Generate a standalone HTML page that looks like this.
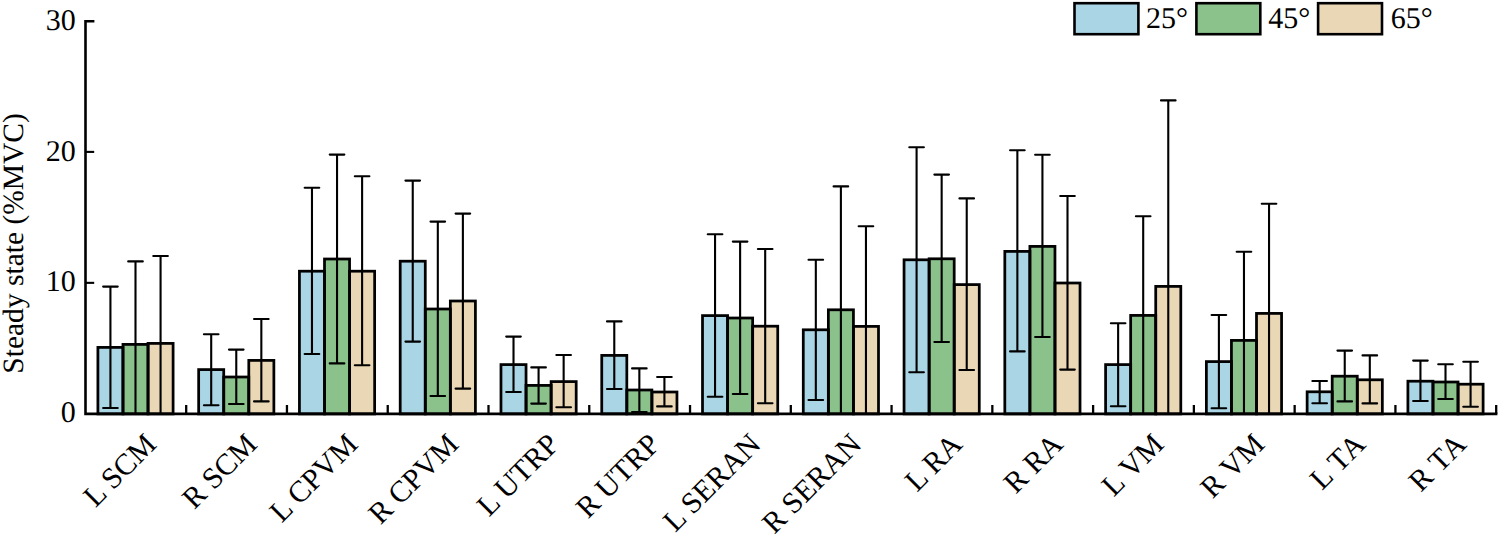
<!DOCTYPE html><html><head><meta charset="utf-8"><style>html,body{margin:0;padding:0;background:#fff;width:1499px;height:535px;overflow:hidden}svg{display:block}text{font-family:"Liberation Serif",serif;text-rendering:geometricPrecision;font-kerning:none;font-size:30px;fill:#000}</style></head><body>
<svg width="1499" height="535" viewBox="0 0 1499 535">
<rect width="1499" height="535" fill="#fff"/>
<g><rect x="97.9" y="347.4" width="25.07" height="66.5" fill="#aad5e4"/><rect x="122.97" y="344.4" width="25.07" height="69.5" fill="#8bc18b"/><rect x="148.03" y="343.4" width="25.07" height="70.5" fill="#ead7b6"/><rect x="198.66" y="369.6" width="25.07" height="44.3" fill="#aad5e4"/><rect x="223.73" y="377" width="25.07" height="36.9" fill="#8bc18b"/><rect x="248.8" y="360.4" width="25.07" height="53.5" fill="#ead7b6"/><rect x="299.43" y="271.2" width="25.07" height="142.7" fill="#aad5e4"/><rect x="324.5" y="259" width="25.07" height="154.9" fill="#8bc18b"/><rect x="349.57" y="271.2" width="25.07" height="142.7" fill="#ead7b6"/><rect x="400.2" y="261.2" width="25.07" height="152.7" fill="#aad5e4"/><rect x="425.27" y="309" width="25.07" height="104.9" fill="#8bc18b"/><rect x="450.34" y="301" width="25.07" height="112.9" fill="#ead7b6"/><rect x="500.97" y="364.6" width="25.07" height="49.3" fill="#aad5e4"/><rect x="526.04" y="385.4" width="25.07" height="28.5" fill="#8bc18b"/><rect x="551.12" y="381.6" width="25.07" height="32.3" fill="#ead7b6"/><rect x="601.75" y="355.4" width="25.07" height="58.5" fill="#aad5e4"/><rect x="626.82" y="390" width="25.07" height="23.9" fill="#8bc18b"/><rect x="651.89" y="392" width="25.07" height="21.9" fill="#ead7b6"/><rect x="702.51" y="315.6" width="25.07" height="98.3" fill="#aad5e4"/><rect x="727.59" y="318" width="25.07" height="95.9" fill="#8bc18b"/><rect x="752.66" y="326.2" width="25.07" height="87.7" fill="#ead7b6"/><rect x="803.28" y="329.8" width="25.07" height="84.1" fill="#aad5e4"/><rect x="828.36" y="309.8" width="25.07" height="104.1" fill="#8bc18b"/><rect x="853.43" y="326.4" width="25.07" height="87.5" fill="#ead7b6"/><rect x="904.05" y="259.8" width="25.07" height="154.1" fill="#aad5e4"/><rect x="929.12" y="258.8" width="25.07" height="155.1" fill="#8bc18b"/><rect x="954.2" y="284.6" width="25.07" height="129.3" fill="#ead7b6"/><rect x="1004.82" y="251.4" width="25.07" height="162.5" fill="#aad5e4"/><rect x="1029.89" y="246.4" width="25.07" height="167.5" fill="#8bc18b"/><rect x="1054.96" y="283" width="25.07" height="130.9" fill="#ead7b6"/><rect x="1105.6" y="364.6" width="25.07" height="49.3" fill="#aad5e4"/><rect x="1130.66" y="315.4" width="25.07" height="98.5" fill="#8bc18b"/><rect x="1155.73" y="286.4" width="25.07" height="127.5" fill="#ead7b6"/><rect x="1206.37" y="361.6" width="25.07" height="52.3" fill="#aad5e4"/><rect x="1231.43" y="340.4" width="25.07" height="73.5" fill="#8bc18b"/><rect x="1256.5" y="313.4" width="25.07" height="100.5" fill="#ead7b6"/><rect x="1307.13" y="391.8" width="25.07" height="22.1" fill="#aad5e4"/><rect x="1332.2" y="376.2" width="25.07" height="37.7" fill="#8bc18b"/><rect x="1357.27" y="379.8" width="25.07" height="34.1" fill="#ead7b6"/><rect x="1407.9" y="381.2" width="25.07" height="32.7" fill="#aad5e4"/><rect x="1432.97" y="382" width="25.07" height="31.9" fill="#8bc18b"/><rect x="1458.04" y="384.2" width="25.07" height="29.7" fill="#ead7b6"/></g>
<path d="M110.43 286.6V408M135.5 261.4V413.9M160.57 256V413.9M211.2 334.3V405.2M236.27 349.6V404M261.34 319V401.4M311.97 187.8V354M337.04 154.6V363.4M362.11 176.2V365.2M412.74 180.6V341.6M437.81 221.6V396M462.88 213.6V388.6M513.51 336.6V392M538.58 367.4V403.6M563.65 355V407.2M614.28 321.4V389M639.35 368.4V412M664.42 377V406.4M715.05 234.2V396.8M740.12 241.6V394M765.19 249V403.2M815.82 259.8V400M840.89 186.4V413.9M865.96 226.2V413.9M916.59 147.2V372.2M941.66 174.6V342M966.73 198.4V370M1017.36 150.2V351.4M1042.43 154.8V337M1067.5 196V369.6M1118.13 323.2V406.2M1143.2 216.2V413.9M1168.27 100.4V413.9M1218.9 315V408.2M1243.97 251.8V413.9M1269.04 203.8V413.9M1319.67 381V403.2M1344.74 350.6V401.4M1369.81 355.4V403.4M1420.44 360.6V401M1445.51 364.2V399M1470.58 361.8V406.8" stroke="#000" stroke-width="2.1" fill="none"/>
<path d="M103.13 286.6H117.73M103.13 408H117.73M128.2 261.4H142.8M153.27 256H167.87M203.9 334.3H218.5M203.9 405.2H218.5M228.97 349.6H243.57M228.97 404H243.57M254.04 319H268.64M254.04 401.4H268.64M304.67 187.8H319.27M304.67 354H319.27M329.74 154.6H344.34M329.74 363.4H344.34M354.81 176.2H369.41M354.81 365.2H369.41M405.44 180.6H420.04M405.44 341.6H420.04M430.51 221.6H445.11M430.51 396H445.11M455.58 213.6H470.18M455.58 388.6H470.18M506.21 336.6H520.81M506.21 392H520.81M531.28 367.4H545.88M531.28 403.6H545.88M556.35 355H570.95M556.35 407.2H570.95M606.98 321.4H621.58M606.98 389H621.58M632.05 368.4H646.65M632.05 412H646.65M657.12 377H671.72M657.12 406.4H671.72M707.75 234.2H722.35M707.75 396.8H722.35M732.82 241.6H747.42M732.82 394H747.42M757.89 249H772.49M757.89 403.2H772.49M808.52 259.8H823.12M808.52 400H823.12M833.59 186.4H848.19M858.66 226.2H873.26M909.29 147.2H923.89M909.29 372.2H923.89M934.36 174.6H948.96M934.36 342H948.96M959.43 198.4H974.03M959.43 370H974.03M1010.06 150.2H1024.66M1010.06 351.4H1024.66M1035.13 154.8H1049.73M1035.13 337H1049.73M1060.2 196H1074.8M1060.2 369.6H1074.8M1110.83 323.2H1125.43M1110.83 406.2H1125.43M1135.9 216.2H1150.5M1160.97 100.4H1175.57M1211.6 315H1226.2M1211.6 408.2H1226.2M1236.67 251.8H1251.27M1261.74 203.8H1276.34M1312.37 381H1326.97M1312.37 403.2H1326.97M1337.44 350.6H1352.04M1337.44 401.4H1352.04M1362.51 355.4H1377.11M1362.51 403.4H1377.11M1413.14 360.6H1427.74M1413.14 401H1427.74M1438.21 364.2H1452.81M1438.21 399H1452.81M1463.28 361.8H1477.88M1463.28 406.8H1477.88" stroke="#000" stroke-width="2.1" fill="none" stroke-linecap="round"/>
<g><rect x="97.9" y="347.4" width="25.07" height="66.5" fill="none" stroke="#000" stroke-width="2.75"/><rect x="122.97" y="344.4" width="25.07" height="69.5" fill="none" stroke="#000" stroke-width="2.75"/><rect x="148.03" y="343.4" width="25.07" height="70.5" fill="none" stroke="#000" stroke-width="2.75"/><rect x="198.66" y="369.6" width="25.07" height="44.3" fill="none" stroke="#000" stroke-width="2.75"/><rect x="223.73" y="377" width="25.07" height="36.9" fill="none" stroke="#000" stroke-width="2.75"/><rect x="248.8" y="360.4" width="25.07" height="53.5" fill="none" stroke="#000" stroke-width="2.75"/><rect x="299.43" y="271.2" width="25.07" height="142.7" fill="none" stroke="#000" stroke-width="2.75"/><rect x="324.5" y="259" width="25.07" height="154.9" fill="none" stroke="#000" stroke-width="2.75"/><rect x="349.57" y="271.2" width="25.07" height="142.7" fill="none" stroke="#000" stroke-width="2.75"/><rect x="400.2" y="261.2" width="25.07" height="152.7" fill="none" stroke="#000" stroke-width="2.75"/><rect x="425.27" y="309" width="25.07" height="104.9" fill="none" stroke="#000" stroke-width="2.75"/><rect x="450.34" y="301" width="25.07" height="112.9" fill="none" stroke="#000" stroke-width="2.75"/><rect x="500.97" y="364.6" width="25.07" height="49.3" fill="none" stroke="#000" stroke-width="2.75"/><rect x="526.04" y="385.4" width="25.07" height="28.5" fill="none" stroke="#000" stroke-width="2.75"/><rect x="551.12" y="381.6" width="25.07" height="32.3" fill="none" stroke="#000" stroke-width="2.75"/><rect x="601.75" y="355.4" width="25.07" height="58.5" fill="none" stroke="#000" stroke-width="2.75"/><rect x="626.82" y="390" width="25.07" height="23.9" fill="none" stroke="#000" stroke-width="2.75"/><rect x="651.89" y="392" width="25.07" height="21.9" fill="none" stroke="#000" stroke-width="2.75"/><rect x="702.51" y="315.6" width="25.07" height="98.3" fill="none" stroke="#000" stroke-width="2.75"/><rect x="727.59" y="318" width="25.07" height="95.9" fill="none" stroke="#000" stroke-width="2.75"/><rect x="752.66" y="326.2" width="25.07" height="87.7" fill="none" stroke="#000" stroke-width="2.75"/><rect x="803.28" y="329.8" width="25.07" height="84.1" fill="none" stroke="#000" stroke-width="2.75"/><rect x="828.36" y="309.8" width="25.07" height="104.1" fill="none" stroke="#000" stroke-width="2.75"/><rect x="853.43" y="326.4" width="25.07" height="87.5" fill="none" stroke="#000" stroke-width="2.75"/><rect x="904.05" y="259.8" width="25.07" height="154.1" fill="none" stroke="#000" stroke-width="2.75"/><rect x="929.12" y="258.8" width="25.07" height="155.1" fill="none" stroke="#000" stroke-width="2.75"/><rect x="954.2" y="284.6" width="25.07" height="129.3" fill="none" stroke="#000" stroke-width="2.75"/><rect x="1004.82" y="251.4" width="25.07" height="162.5" fill="none" stroke="#000" stroke-width="2.75"/><rect x="1029.89" y="246.4" width="25.07" height="167.5" fill="none" stroke="#000" stroke-width="2.75"/><rect x="1054.96" y="283" width="25.07" height="130.9" fill="none" stroke="#000" stroke-width="2.75"/><rect x="1105.6" y="364.6" width="25.07" height="49.3" fill="none" stroke="#000" stroke-width="2.75"/><rect x="1130.66" y="315.4" width="25.07" height="98.5" fill="none" stroke="#000" stroke-width="2.75"/><rect x="1155.73" y="286.4" width="25.07" height="127.5" fill="none" stroke="#000" stroke-width="2.75"/><rect x="1206.37" y="361.6" width="25.07" height="52.3" fill="none" stroke="#000" stroke-width="2.75"/><rect x="1231.43" y="340.4" width="25.07" height="73.5" fill="none" stroke="#000" stroke-width="2.75"/><rect x="1256.5" y="313.4" width="25.07" height="100.5" fill="none" stroke="#000" stroke-width="2.75"/><rect x="1307.13" y="391.8" width="25.07" height="22.1" fill="none" stroke="#000" stroke-width="2.75"/><rect x="1332.2" y="376.2" width="25.07" height="37.7" fill="none" stroke="#000" stroke-width="2.75"/><rect x="1357.27" y="379.8" width="25.07" height="34.1" fill="none" stroke="#000" stroke-width="2.75"/><rect x="1407.9" y="381.2" width="25.07" height="32.7" fill="none" stroke="#000" stroke-width="2.75"/><rect x="1432.97" y="382" width="25.07" height="31.9" fill="none" stroke="#000" stroke-width="2.75"/><rect x="1458.04" y="384.2" width="25.07" height="29.7" fill="none" stroke="#000" stroke-width="2.75"/></g>
<path d="M93.1 21.25H85.5V413.9H1496.1" stroke="#000" stroke-width="2.6" fill="none" stroke-linecap="square"/>
<g stroke="#000" stroke-width="2.1" fill="none">
<path d="M85.5 282.85H94.2"/>
<path d="M85.5 151.9H94.2"/>
</g>
<g stroke="#000" stroke-width="2.3" fill="none">
<path d="M186.19 413.9V405"/>
<path d="M286.95 413.9V405"/>
<path d="M387.73 413.9V405"/>
<path d="M488.5 413.9V405"/>
<path d="M589.26 413.9V405"/>
<path d="M690.03 413.9V405"/>
<path d="M790.8 413.9V405"/>
<path d="M891.57 413.9V405"/>
<path d="M992.34 413.9V405"/>
<path d="M1093.11 413.9V405"/>
<path d="M1193.88 413.9V405"/>
<path d="M1294.65 413.9V405"/>
<path d="M1395.42 413.9V405"/>
<path d="M1496.19 413.9V405"/>
</g>
<text x="75.8" y="422.4" text-anchor="end">0</text>
<text x="75.8" y="291.45" text-anchor="end">10</text>
<text x="75.8" y="160.5" text-anchor="end">20</text>
<text x="75.8" y="29.85" text-anchor="end">30</text>
<text transform="translate(23 243.4) rotate(-90)" text-anchor="middle" style="font-size:29.5px">Steady state (%MVC)</text>
<text transform="translate(157.75 445.9) rotate(-45)" text-anchor="end" dx="0 -1.11 0 0 0">L SCM</text>
<text transform="translate(258.52 445.9) rotate(-45)" text-anchor="end">R SCM</text>
<text transform="translate(359.29 445.9) rotate(-45)" text-anchor="end" dx="0 -1.11 0 0 0 0">L CPVM</text>
<text transform="translate(460.06 445.9) rotate(-45)" text-anchor="end">R CPVM</text>
<text transform="translate(560.83 445.9) rotate(-45)" text-anchor="end" dx="0 -1.11 0 0 0 0">L UTRP</text>
<text transform="translate(661.6 445.9) rotate(-45)" text-anchor="end">R UTRP</text>
<text transform="translate(762.37 445.9) rotate(-45)" text-anchor="end" dx="0 -1.11 0 0 0 0 0">L SERAN</text>
<text transform="translate(863.14 445.9) rotate(-45)" text-anchor="end">R SERAN</text>
<text transform="translate(963.91 445.9) rotate(-45)" text-anchor="end" dx="0 -1.11 0 0">L RA</text>
<text transform="translate(1064.68 445.9) rotate(-45)" text-anchor="end">R RA</text>
<text transform="translate(1165.45 445.9) rotate(-45)" text-anchor="end" dx="0 -1.11 0 0">L VM</text>
<text transform="translate(1266.22 445.9) rotate(-45)" text-anchor="end">R VM</text>
<text transform="translate(1366.99 445.9) rotate(-45)" text-anchor="end" dx="0 -1.11 0 -1">L TA</text>
<text transform="translate(1467.76 445.9) rotate(-45)" text-anchor="end" dx="0 0 0 -1">R TA</text>
<rect x="1074.5" y="3.2" width="63.9" height="31" fill="#aad5e4" stroke="#000" stroke-width="2.6"/>
<text x="1146.1" y="28">25°</text>
<rect x="1196.4" y="3.2" width="63.9" height="31" fill="#8bc18b" stroke="#000" stroke-width="2.6"/>
<text x="1268.3" y="28">45°</text>
<rect x="1318.1" y="3.2" width="63.9" height="31" fill="#ead7b6" stroke="#000" stroke-width="2.6"/>
<text x="1390.7" y="28">65°</text>
</svg></body></html>
